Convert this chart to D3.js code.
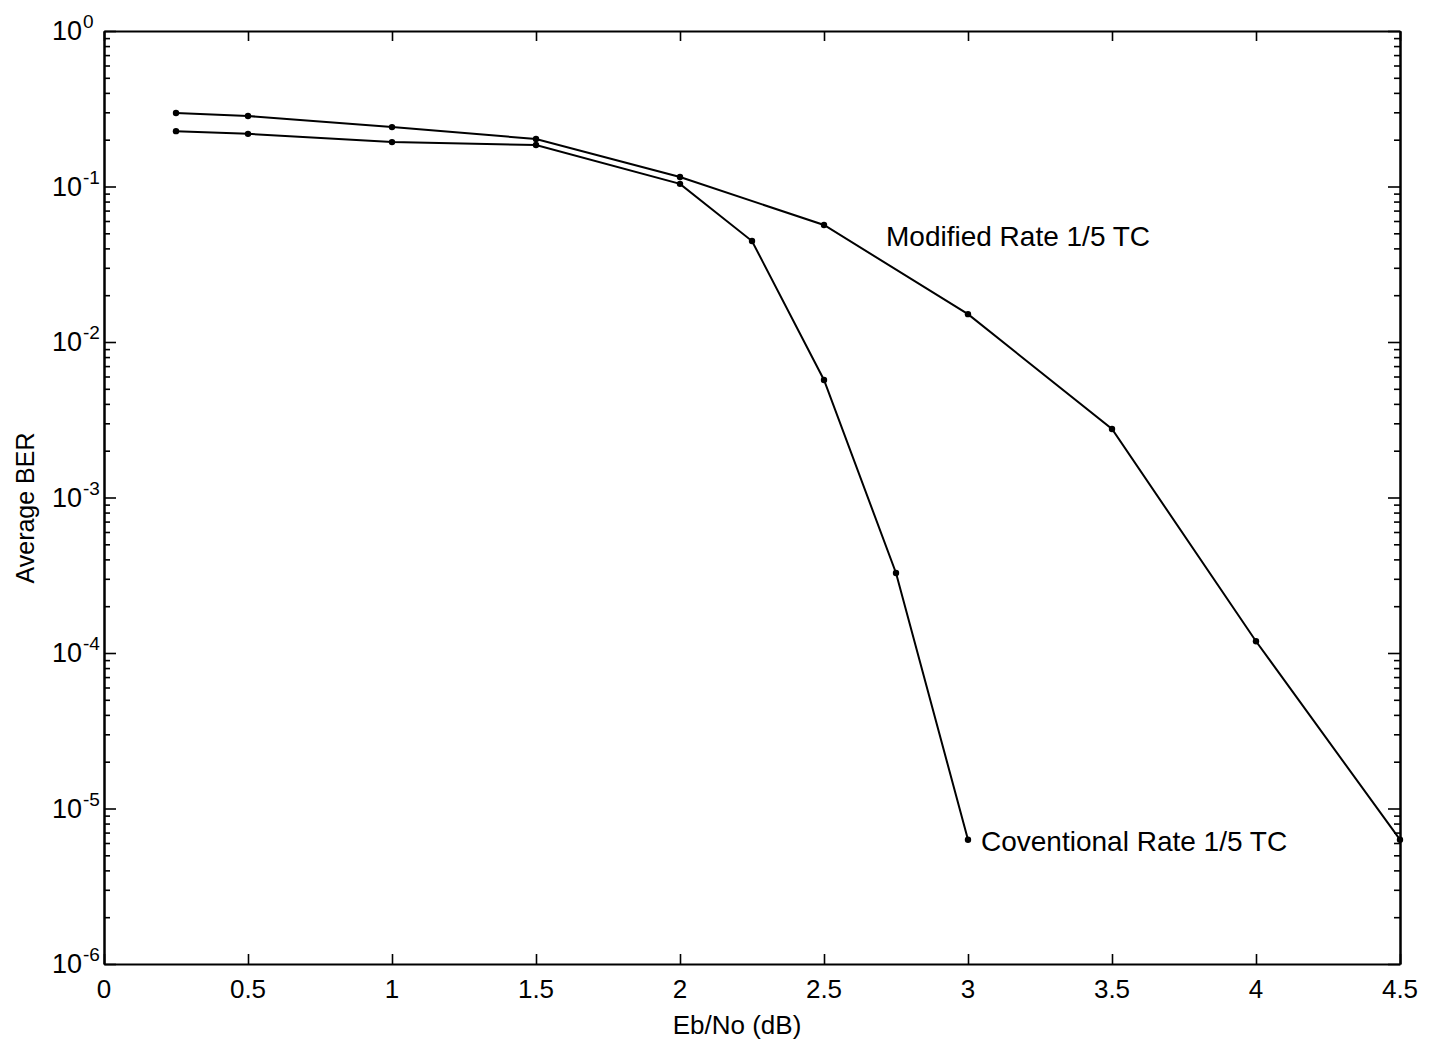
<!DOCTYPE html>
<html>
<head>
<meta charset="utf-8">
<script src="https://cdn.jsdelivr.net/npm/d3@7"></script>
<style>
  body { margin: 0; background: #fff; }
  svg text { font-family: "Liberation Sans", Arial, sans-serif; fill: #000; }
</style>
</head>
<body>
<svg id="chart" width="1436" height="1043"></svg>
<script>
// Eb/No values (dB)
const ebno_conv = [0.25, 0.5, 1, 1.5, 2, 2.25, 2.5, 2.75, 3]
const ber_conv = [0.227, 0.218, 0.193, 0.185, 0.104, 0.0446, 0.0057, 3.27e-4, 6.3e-6]

const ebno_mod = [0.25, 0.5, 1, 1.5, 2, 2.5, 3, 3.5, 4, 4.5]
const ber_mod = [0.297, 0.284, 0.241, 0.202, 0.115, 0.0566, 0.0151, 2.76e-3, 1.19e-4, 6.3e-6]

const x_ticks = [0, 0.5, 1, 1.5, 2, 2.5, 3, 3.5, 4, 4.5]
const y_exps = [0, -1, -2, -3, -4, -5, -6]

const margin = { left: 104, right: 1400, top: 31, bottom: 964 }

let svg = d3.select('#chart')

let x = d3.scaleLinear().domain([0, 4.5]).range([margin.left, margin.right])
let y = d3.scaleLog().domain([1e-6, 1]).range([margin.bottom, margin.top])

// minor ticks 2..9 for each decade
let minor = []
for (let e = -6; e < 0; e++) {
  for (let m = 2; m <= 9; m++) minor.push(m * Math.pow(10, e))
}
let major = y_exps.map(e => Math.pow(10, e))

function style_axis(g) {
  g.select('.domain').attr('stroke', '#000').attr('stroke-width', 2)
  g.selectAll('.tick line').attr('stroke', '#000').attr('stroke-width', 1.6)
  g.selectAll('.tick text').remove()
}

// x ticks bottom / top (inward)
svg.append('g')
  .attr('transform', `translate(0,${margin.bottom})`)
  .call(d3.axisBottom(x).tickValues(x_ticks).tickSizeInner(-10).tickSizeOuter(0))
  .call(style_axis)
svg.append('g')
  .attr('transform', `translate(0,${margin.top})`)
  .call(d3.axisTop(x).tickValues(x_ticks).tickSizeInner(-10).tickSizeOuter(0))
  .call(style_axis)

// y ticks left / right
svg.append('g')
  .attr('transform', `translate(${margin.left},0)`)
  .call(d3.axisLeft(y).tickValues(major).tickSizeInner(-12).tickSizeOuter(0))
  .call(style_axis)
svg.append('g')
  .attr('transform', `translate(${margin.left},0)`)
  .call(d3.axisLeft(y).tickValues(minor).tickSizeInner(-6).tickSizeOuter(0))
  .call(style_axis)
svg.append('g')
  .attr('transform', `translate(${margin.right},0)`)
  .call(d3.axisRight(y).tickValues(major).tickSizeInner(-12).tickSizeOuter(0))
  .call(style_axis)
svg.append('g')
  .attr('transform', `translate(${margin.right},0)`)
  .call(d3.axisRight(y).tickValues(minor).tickSizeInner(-6).tickSizeOuter(0))
  .call(style_axis)

// x tick labels
svg.append('g').selectAll('text')
  .data(x_ticks)
  .join('text')
  .attr('x', d => x(d))
  .attr('y', 998)
  .attr('text-anchor', 'middle')
  .style('font-size', '26px')
  .text(d => d)

// y tick labels 10^n
svg.append('g').selectAll('text')
  .data(y_exps)
  .join('text')
  .attr('x', 82)
  .attr('y', d => y(Math.pow(10, d)) + 9)
  .attr('text-anchor', 'end')
  .style('font-size', '27px')
  .text('10')
svg.append('g').selectAll('text')
  .data(y_exps)
  .join('text')
  .attr('x', 83)
  .attr('y', d => y(Math.pow(10, d)) - 3)
  .attr('text-anchor', 'start')
  .style('font-size', '19px')
  .text(d => d)

// axis titles
svg.append('text')
  .attr('x', 737)
  .attr('y', 1034)
  .attr('text-anchor', 'middle')
  .style('font-size', '26px')
  .text('Eb/No (dB)')
svg.append('text')
  .attr('transform', 'translate(34,508) rotate(-90)')
  .attr('text-anchor', 'middle')
  .style('font-size', '25px')
  .text('Average BER')

// curves
let line = d3.line().x(d => x(d[0])).y(d => y(d[1]))
let series = [
  d3.zip(ebno_conv, ber_conv),
  d3.zip(ebno_mod, ber_mod)
]
series.forEach(pts => {
  svg.append('path')
    .datum(pts)
    .attr('d', line)
    .attr('fill', 'none')
    .attr('stroke', '#000')
    .attr('stroke-width', 2)
  svg.append('g').selectAll('circle')
    .data(pts)
    .join('circle')
    .attr('cx', d => x(d[0]))
    .attr('cy', d => y(d[1]))
    .attr('r', 3.2)
    .attr('fill', '#000')
})

// curve labels
svg.append('text')
  .attr('x', 886)
  .attr('y', 246)
  .style('font-size', '28px')
  .text('Modified Rate 1/5 TC')
svg.append('text')
  .attr('x', 981)
  .attr('y', 851)
  .style('font-size', '28px')
  .text('Coventional Rate 1/5 TC')
</script>
</body>
</html>
